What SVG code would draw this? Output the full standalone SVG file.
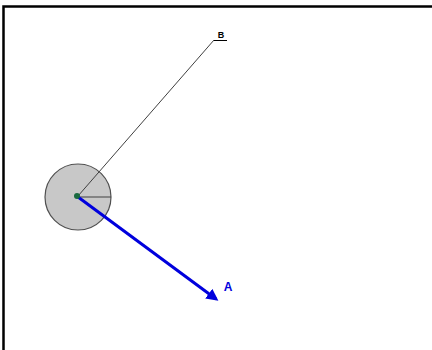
<svg xmlns="http://www.w3.org/2000/svg" width="432" height="350" viewBox="0 0 432 350">
<defs>
<style>
.frame{fill:none;stroke:#000;stroke-width:2.5}
.lbl{font-family:"Liberation Sans",Arial,sans-serif;font-weight:bold}
</style>
<marker id="ah" markerWidth="4" markerHeight="4" refX="3" refY="2" orient="auto" markerUnits="strokeWidth">
<path d="M0,0 L4,2 L0,4 Z" fill="#0000dd"/>
</marker>
</defs>
<rect width="432" height="350" fill="#fff"/>
<path class="frame" d="M3.5,350 V6.5 H432"/>
<g id="disk">
<circle cx="78" cy="197" r="33" fill="#c8c8c8" stroke="#505050" stroke-width="1.2"/>
<line x1="78" y1="197" x2="111" y2="197" stroke="#404040" stroke-width="1.2"/>
</g>
<g id="connectors">
<line x1="78" y1="196" x2="214" y2="40" stroke="#404040" stroke-width="1"/>
<line x1="78" y1="197" x2="216" y2="299" stroke="#0000dd" stroke-width="3" marker-end="url(#ah)"/>
</g>
<g id="center"><circle cx="77" cy="196" r="3" fill="#1a6a40"/></g>
<g id="B"><text class="lbl" x="221" y="38" font-size="9" text-anchor="middle" fill="#000">B</text>
<line x1="214" y1="40.5" x2="227" y2="40.5" stroke="#000" stroke-width="1"/></g>
<g id="A"><text class="lbl" x="228" y="291" font-size="12" text-anchor="middle" fill="#0000dd">A</text></g>
</svg>
